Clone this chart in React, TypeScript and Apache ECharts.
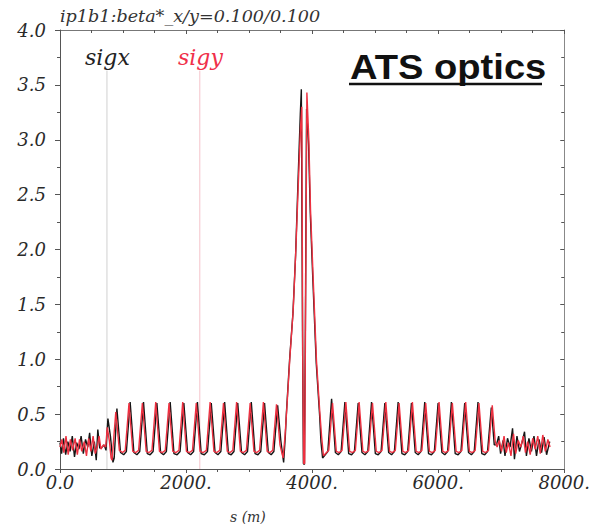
import React, { useEffect, useRef } from "react";
import * as echarts from "echarts";

// ---- data: s (m), sigma ----
const sigxLeftNoise: number[][] = [
  [0, 0.24], [25, 0.14], [55, 0.28], [90, 0.13], [125, 0.25], [160, 0.16], [195, 0.3], [230, 0.11],
  [265, 0.24], [300, 0.18], [335, 0.3], [370, 0.14], [405, 0.27], [440, 0.2], [470, 0.33], [505, 0.12],
  [545, 0.25], [575, 0.08], [600, 0.36], [630, 0.19], [670, 0.2], [700, 0.22], [730, 0.17], [760, 0.46],
  [800, 0.3], [840, 0.06],
];
const sigxLeftArc: number[][] = [
  [860, 0.1], [903, 0.55], [960, 0.15], [1010, 0.13],
  [1053, 0.16], [1113, 0.61], [1172, 0.15], [1220, 0.13],
  [1265, 0.16], [1325, 0.61], [1385, 0.14], [1430, 0.13],
  [1477, 0.16], [1537, 0.6], [1596, 0.15], [1642, 0.13],
  [1688, 0.16], [1748, 0.61], [1808, 0.14], [1858, 0.13],
  [1905, 0.16], [1965, 0.6], [2024, 0.15], [2072, 0.13],
  [2120, 0.16], [2180, 0.61], [2240, 0.14], [2290, 0.13],
  [2340, 0.16], [2400, 0.6], [2460, 0.15], [2505, 0.13],
  [2552, 0.16], [2612, 0.61], [2672, 0.14], [2716, 0.13],
  [2760, 0.16], [2820, 0.6], [2880, 0.15], [2928, 0.13],
  [2975, 0.16], [3035, 0.61], [3095, 0.14], [3140, 0.13],
  [3185, 0.16], [3245, 0.6], [3305, 0.15], [3350, 0.13],
  [3393, 0.16], [3453, 0.58], [3505, 0.25], [3548, 0.06], [3575, 0.3],
];
const sigxIR: number[][] = [
  [3591, 0.5], [3643, 1.0], [3696, 1.42], [3738, 1.95], [3775, 2.6], [3813, 3.24], [3829, 3.46],
  [3848, 1.2], [3862, 0.05], [3878, 0.04], [3893, 1.3], [3912, 3.28], [3944, 2.95], [3971, 2.33],
  [4012, 1.72], [4066, 0.96], [4118, 0.5], [4140, 0.25],
];
const sigxRightArc: number[][] = [
  [4166, 0.1], [4249, 0.16], [4309, 0.64], [4369, 0.15], [4415, 0.13],
  [4460, 0.16], [4520, 0.61], [4580, 0.14], [4626, 0.13],
  [4671, 0.16], [4731, 0.6], [4791, 0.15], [4837, 0.13],
  [4883, 0.16], [4943, 0.61], [5003, 0.14], [5048, 0.13],
  [5094, 0.16], [5154, 0.6], [5214, 0.15], [5260, 0.13],
  [5305, 0.16], [5365, 0.61], [5425, 0.14], [5470, 0.13],
  [5516, 0.16], [5576, 0.6], [5636, 0.15], [5682, 0.13],
  [5727, 0.16], [5787, 0.61], [5847, 0.14], [5893, 0.13],
  [5939, 0.16], [5999, 0.6], [6059, 0.15], [6104, 0.13],
  [6150, 0.16], [6210, 0.61], [6270, 0.14], [6316, 0.13],
  [6361, 0.16], [6421, 0.6], [6481, 0.15], [6527, 0.13],
  [6572, 0.16], [6632, 0.61], [6692, 0.14], [6738, 0.13],
  [6783, 0.16], [6843, 0.56], [6890, 0.22],
];
const sigxRightNoise: number[][] = [
  [6925, 0.22], [6960, 0.3], [6990, 0.14], [7030, 0.26], [7060, 0.12], [7100, 0.28], [7140, 0.2],
  [7180, 0.37], [7210, 0.09], [7250, 0.3], [7290, 0.16], [7330, 0.24], [7370, 0.34], [7400, 0.12],
  [7440, 0.28], [7480, 0.16], [7520, 0.3], [7560, 0.12], [7600, 0.27], [7640, 0.15], [7680, 0.29],
  [7720, 0.13], [7770, 0.25],
];

const sigyLeftNoise: number[][] = [
  [0, 0.2], [30, 0.27], [60, 0.15], [95, 0.3], [130, 0.13], [165, 0.27], [200, 0.17], [240, 0.28],
  [275, 0.13], [310, 0.27], [345, 0.16], [385, 0.25], [420, 0.12], [455, 0.28], [490, 0.16], [525, 0.3],
  [560, 0.14], [590, 0.2], [620, 0.3], [650, 0.18], [690, 0.22], [725, 0.2], [750, 0.38], [785, 0.25],
  [810, 0.1],
];
const sigyLeftArc: number[][] = [
  [825, 0.08], [885, 0.52], [942, 0.17], [992, 0.15],
  [1035, 0.17], [1095, 0.6], [1155, 0.16], [1202, 0.15],
  [1247, 0.17], [1307, 0.6], [1367, 0.16], [1412, 0.15],
  [1459, 0.17], [1519, 0.61], [1578, 0.16], [1625, 0.15],
  [1670, 0.17], [1730, 0.6], [1790, 0.16], [1840, 0.15],
  [1887, 0.17], [1947, 0.61], [2006, 0.16], [2054, 0.15],
  [2102, 0.17], [2162, 0.6], [2222, 0.16], [2272, 0.15],
  [2322, 0.17], [2382, 0.61], [2442, 0.16], [2487, 0.15],
  [2534, 0.17], [2594, 0.6], [2654, 0.16], [2698, 0.15],
  [2742, 0.17], [2802, 0.61], [2862, 0.16], [2910, 0.15],
  [2957, 0.17], [3017, 0.6], [3077, 0.16], [3122, 0.15],
  [3167, 0.17], [3227, 0.61], [3287, 0.16], [3332, 0.15],
  [3375, 0.17], [3435, 0.59], [3490, 0.22], [3540, 0.1], [3570, 0.3],
];
const sigyIR: number[][] = [
  [3595, 0.52], [3648, 1.02], [3700, 1.45], [3742, 2.0], [3778, 2.55], [3815, 3.1], [3836, 3.3],
  [3852, 1.0], [3866, 0.05], [3882, 0.05], [3897, 1.5], [3917, 3.43], [3948, 3.0], [3975, 2.36],
  [4016, 1.75], [4070, 0.98], [4122, 0.52], [4150, 0.3],
];
const sigyRightArc: number[][] = [
  [4180, 0.12], [4264, 0.17], [4324, 0.6], [4384, 0.16], [4430, 0.15],
  [4475, 0.17], [4535, 0.61], [4595, 0.16], [4641, 0.15],
  [4686, 0.17], [4746, 0.61], [4806, 0.16], [4852, 0.15],
  [4898, 0.17], [4958, 0.6], [5018, 0.16], [5063, 0.15],
  [5109, 0.17], [5169, 0.61], [5229, 0.16], [5275, 0.15],
  [5320, 0.17], [5380, 0.6], [5440, 0.16], [5485, 0.15],
  [5531, 0.17], [5591, 0.61], [5651, 0.16], [5697, 0.15],
  [5742, 0.17], [5802, 0.6], [5862, 0.16], [5908, 0.15],
  [5954, 0.17], [6014, 0.61], [6074, 0.16], [6119, 0.15],
  [6165, 0.17], [6225, 0.6], [6285, 0.16], [6331, 0.15],
  [6376, 0.17], [6436, 0.61], [6496, 0.16], [6542, 0.15],
  [6587, 0.17], [6647, 0.6], [6707, 0.16], [6753, 0.15],
  [6798, 0.17], [6858, 0.58], [6905, 0.25],
];
const sigyRightNoise: number[][] = [
  [6935, 0.2], [6970, 0.26], [7005, 0.16], [7045, 0.3], [7080, 0.15], [7115, 0.24], [7155, 0.12],
  [7195, 0.32], [7230, 0.14], [7270, 0.26], [7310, 0.2], [7350, 0.3], [7385, 0.15], [7420, 0.25],
  [7460, 0.13], [7500, 0.28], [7540, 0.18], [7580, 0.3], [7620, 0.14], [7660, 0.31], [7700, 0.16],
  [7740, 0.27], [7775, 0.2],
];

// legend marker lines (s position, top value)
const legendLineX: number[][] = [[745, 0], [745, 3.63]];
const legendLineY: number[][] = [[2218, 0], [2218, 3.63]];

const titleText = "ip1b1:beta*_x/y=0.100/0.100";
const xTicks = { min: 0, max: 8000, interval: 2000 };
const yTicks = { min: 0, max: 4, interval: 0.5 };

const serif = '"DejaVu Serif"';
const BLACK = "#151515";
const RED = "#ee3040";

export default function App() {
  const ref = useRef<HTMLDivElement>(null);
  useEffect(() => {
    if (!ref.current) return;
    const chart = echarts.init(ref.current, undefined, { renderer: "svg" });
    const sigx = [...sigxLeftNoise, ...sigxLeftArc, ...sigxIR, ...sigxRightArc, ...sigxRightNoise];
    const sigy = [...sigyLeftNoise, ...sigyLeftArc, ...sigyIR, ...sigyRightArc, ...sigyRightNoise];
    const axisLineStyle = { color: "#555", width: 1 };
    const labelStyle = { fontFamily: serif, fontStyle: "italic", fontSize: 18, color: "#2a2a2a" };
    chart.setOption({
      animation: false,
      backgroundColor: "#fff",
      grid: { left: 60, right: 28, top: 30, bottom: 55 },
      xAxis: [
        {
          type: "value", ...xTicks, position: "bottom",
          axisLine: { show: true, onZero: false, lineStyle: axisLineStyle },
          axisTick: { show: true, inside: false, length: 4, lineStyle: axisLineStyle },
          minorTick: { show: true, splitNumber: 4, length: 3, lineStyle: axisLineStyle },
          splitLine: { show: false },
          axisLabel: {
            ...labelStyle, margin: 4,
            formatter: (v: number) => (v === 0 ? "0.0" : `${v}.`),
          },
        },
        {
          type: "value", ...xTicks, position: "top",
          axisLine: { show: true, onZero: false, lineStyle: { color: "#777", width: 1 } },
          axisTick: { show: true, inside: true, length: 4, lineStyle: axisLineStyle },
          minorTick: { show: true, splitNumber: 4, length: 3, lineStyle: axisLineStyle },
          splitLine: { show: false },
          axisLabel: { show: false },
        },
      ],
      yAxis: [
        {
          type: "value", ...yTicks, position: "left",
          axisLine: { show: true, onZero: false, lineStyle: axisLineStyle },
          axisTick: { show: true, inside: false, length: 5, lineStyle: axisLineStyle },
          minorTick: { show: true, splitNumber: 2, length: 3, lineStyle: axisLineStyle },
          splitLine: { show: false },
          axisLabel: { ...labelStyle, margin: 14, formatter: (v: number) => v.toFixed(1) },
        },
        {
          type: "value", ...yTicks, position: "right",
          axisLine: { show: true, onZero: false, lineStyle: { color: "#888", width: 1 } },
          axisTick: { show: true, inside: true, length: 4, lineStyle: axisLineStyle },
          minorTick: { show: true, splitNumber: 2, length: 3, lineStyle: axisLineStyle },
          splitLine: { show: false },
          axisLabel: { show: false },
        },
      ],
      series: [
        {
          type: "line", data: legendLineX, showSymbol: false, silent: true,
          lineStyle: { color: "#d0d0d0", width: 1 },
        },
        {
          type: "line", data: legendLineY, showSymbol: false, silent: true,
          lineStyle: { color: "#f6c4cb", width: 1 },
        },
        {
          name: "sigx", type: "line", data: sigx, showSymbol: false, silent: true,
          lineStyle: { color: BLACK, width: 1.4 },
        },
        {
          name: "sigy", type: "line", data: sigy, showSymbol: false, silent: true,
          lineStyle: { color: RED, width: 1.4 },
        },
      ],
      graphic: [
        {
          type: "text", x: 60, y: 16, scaleX: 1.1,
          style: { text: titleText, font: `italic 16px ${serif}`, fill: "#333", textVerticalAlign: "middle" },
        },
        {
          type: "text", x: 85, y: 57,
          style: { text: "sigx", font: `italic 22px ${serif}`, fill: "#222", textVerticalAlign: "middle" },
        },
        {
          type: "text", x: 178, y: 57,
          style: { text: "sigy", font: `italic 22px ${serif}`, fill: "#f0304a", textVerticalAlign: "middle" },
        },
        {
          type: "text", x: 350, y: 67, scaleX: 1.09,
          style: { text: "ATS optics", font: 'bold 35px "Liberation Sans"', fill: "#111", textVerticalAlign: "middle" },
        },
        {
          type: "line", shape: { x1: 349, y1: 84, x2: 542, y2: 84 },
          style: { stroke: "#111", lineWidth: 2.5 },
        },
        {
          type: "text", x: 230, y: 517,
          style: { text: "s (m)", font: `italic 14px ${serif}`, fill: "#333", textVerticalAlign: "middle" },
        },
      ],
    });
    return () => chart.dispose();
  }, []);
  return <div ref={ref} style={{ width: 593, height: 524, position: "absolute", left: 0, top: 0 }} />;
}
